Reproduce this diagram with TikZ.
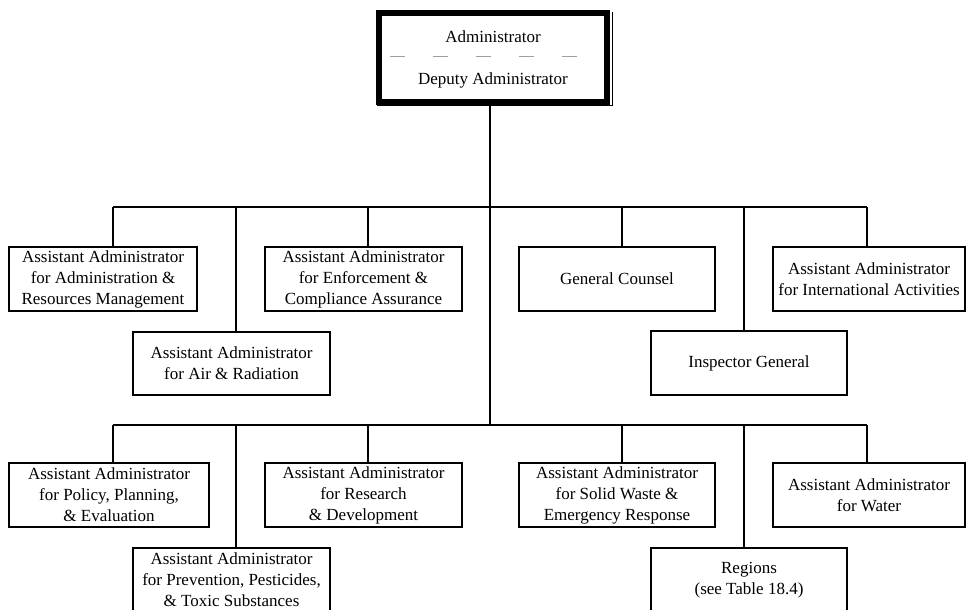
\documentclass[tikz,border=0pt]{standalone}
\usepackage{fontspec}
\setmainfont{Liberation Serif}
\begin{document}
\begin{tikzpicture}[x=1pt,y=-1pt,
  box/.style={draw, line width=1.3pt, align=center, inner sep=0pt, outer sep=0pt,
    font=\fontsize{17}{21}\selectfont, minimum height=64pt},
  conn/.style={line width=1.1pt},
  lbl/.style={inner sep=0pt, font=\fontsize{17}{21}\selectfont}]
\useasboundingbox (0,0) rectangle (966,610);

% top box
\node[draw, line width=6pt, outer sep=0pt, minimum width=228pt, minimum height=89pt, inner sep=0pt] (top) at (493,57.5) {};
\draw[line width=1pt] ([shift={(5,-1)}]top.north east) |- ([shift={(-2,3.5)}]top.south west);
\node[lbl] (adm) at (493,37) {Administrator};
\node[lbl] (dep) at (493,80) {Deputy Administrator};
\draw[line width=1pt, gray!75, dash pattern=on 15pt off 28pt] (390,57) -- (578,57);

% bus coordinates
\coordinate (b1) at (113,207);
\coordinate (b2) at (236,207);
\coordinate (b3) at (368,207);
\coordinate (b4) at (490,207);
\coordinate (b5) at (622,207);
\coordinate (b6) at (744,207);
\coordinate (b7) at (867,207);
\coordinate (c1) at (113,425);
\coordinate (c2) at (236,425);
\coordinate (c3) at (368,425);
\coordinate (c4) at (490,425);
\coordinate (c5) at (622,425);
\coordinate (c6) at (744,425);
\coordinate (c7) at (867,425);

% first tier
\node[box, minimum width=188pt] (admres) at (103,279) {Assistant Administrator\\for Administration \&\\Resources Management};
\node[box, minimum width=197pt] (enf) at (363.5,279) {Assistant Administrator\\for Enforcement \&\\Compliance Assurance};
\node[box, minimum width=197pt, minimum height=63pt] (air) at (231.5,363.5) {Assistant Administrator\\for Air \& Radiation};
\node[box, minimum width=196pt] (gc) at (617,279) {General Counsel};
\node[box, minimum width=192pt] (intl) at (869,279) {Assistant Administrator\\for International Activities};
\node[box, minimum width=196pt] (ig) at (749,363) {Inspector General};

% second tier
\node[box, minimum width=200pt] (pol) at (109,495) {Assistant Administrator\\for Policy, Planning,\\\& Evaluation};
\node[box, minimum width=197pt] (rd) at (363.5,495) {Assistant Administrator\\for Research\\\& Development};
\node[box, minimum width=197pt] (prev) at (231.5,580) {Assistant Administrator\\for Prevention, Pesticides,\\\& Toxic Substances};
\node[box, minimum width=196pt] (sw) at (617,495) {Assistant Administrator\\for Solid Waste \&\\Emergency Response};
\node[box, minimum width=192pt] (wat) at (869,495) {Assistant Administrator\\for Water};
\node[box, minimum width=196pt] (reg) at (749,580) {Regions\\(see Table 18.4)};

% connectors
\draw[conn] (top.south -| b4) -- (c4);
\draw[conn] (b1) -- (b7);
\draw[conn] (c1) -- (c7);
\draw[conn] (b1) -- (b1 |- admres.north);
\draw[conn] (b2) -- (b2 |- air.north);
\draw[conn] (b3) -- (b3 |- enf.north);
\draw[conn] (b5) -- (b5 |- gc.north);
\draw[conn] (b6) -- (b6 |- ig.north);
\draw[conn] (b7) -- (b7 |- intl.north);
\draw[conn] (c1) -- (c1 |- pol.north);
\draw[conn] (c2) -- (c2 |- prev.north);
\draw[conn] (c3) -- (c3 |- rd.north);
\draw[conn] (c5) -- (c5 |- sw.north);
\draw[conn] (c6) -- (c6 |- reg.north);
\draw[conn] (c7) -- (c7 |- wat.north);
\end{tikzpicture}
\end{document}
